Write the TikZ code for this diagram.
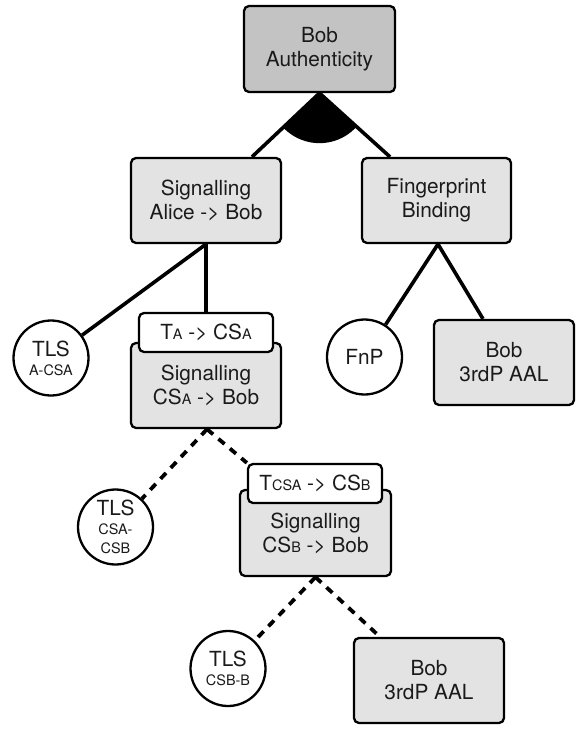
\documentclass[tikz,border=0pt]{standalone}
\usepackage{fontspec}
\setmainfont{TeX Gyre Heros}
\usetikzlibrary{backgrounds}
\definecolor{boxgray}{HTML}{E3E3E3}
\definecolor{rootgray}{HTML}{C3C3C3}
\definecolor{txt}{HTML}{1A1A1A}
\newcommand{\smtxt}[1]{{\fontsize{14.4}{16}\selectfont #1}}
\tikzset{
  box/.style={draw, line width=2.3pt, rounded corners=5pt, fill=boxgray, inner sep=0pt,
    align=center, text=txt, font=\fontsize{20.8}{24}\selectfont},
  rootbox/.style={box, fill=rootgray},
  tbox/.style={box, fill=white},
  leaf/.style={circle, draw, line width=2.3pt, fill=white, minimum size=75pt, inner sep=0pt,
    align=center, text=txt, font=\fontsize{20.8}{22}\selectfont},
  conn/.style={line width=3.6pt},
  dconn/.style={line width=3.8pt, dash pattern=on 8pt off 7pt},
}
\begin{document}
\begin{tikzpicture}[x=1pt,y=1pt]
\useasboundingbox (0,0) rectangle (576,-729);
% nodes
\node[rootbox, minimum width=151pt, minimum height=86pt] (root) at (319.5,-49) {Bob\\Authenticity};
\node[box, minimum width=150pt, minimum height=85pt] (sa) at (206,-200.5) {Signalling\\Alice -> Bob};
\node[box, minimum width=149pt, minimum height=85pt] (fb) at (436.5,-200.5) {Fingerprint\\Binding};
\node[leaf] (tls1) at (51,-358) {TLS\\[-3pt]\smtxt{A-CSA}};
\node[box, minimum width=150pt, minimum height=85pt] (sca) at (206,-385.5) {Signalling\\CS\smtxt{A} -> Bob};
\node[tbox, minimum width=134pt, minimum height=39pt] (ta) at (206,-332.5) {T\smtxt{A} -> CS\smtxt{A}};
\node[leaf] (fnp) at (364.5,-357) {FnP};
\node[box, minimum width=140pt, minimum height=85pt] (rb) at (504,-362.5) {Bob\\3rdP AAL};
\node[leaf] (tls2) at (115.5,-527) {TLS\\[-3pt]\smtxt{CSA-}\\[-3pt]\smtxt{CSB}};
\node[box, minimum width=151pt, minimum height=86pt] (scb) at (315.5,-533) {Signalling\\CS\smtxt{B} -> Bob};
\node[tbox, minimum width=134pt, minimum height=39pt] (tcsa) at (315,-483.5) {T\smtxt{CSA} -> CS\smtxt{B}};
\node[leaf] (tls3) at (228,-668.5) {TLS\\[-3pt]\smtxt{CSB-B}};
\node[box, minimum width=150pt, minimum height=85pt] (bb) at (429,-680.5) {Bob\\3rdP AAL};
% connectors
\begin{scope}[on background layer]
\draw[conn] (root.south) -- ([xshift=46pt]sa.north);
\draw[conn] (root.south) -- ([xshift=-46.5pt]fb.north);
\fill (root.south) -- ++(223.5:50) arc[start angle=223.5, end angle=317.8, radius=50] -- cycle;
\draw[conn] (sa.south) -- (ta.north);
\draw[conn] (sa.south) -- (tls1);
\draw[conn] ([xshift=1.5pt]fb.south) -- (fnp);
\draw[conn] ([xshift=1.5pt]fb.south) -- ([xshift=-21pt]rb.north);
\draw[dconn] ([xshift=1pt]sca.south) -- (tls2);
\draw[dconn] ([xshift=1pt]sca.south) -- (tcsa.north west);
\draw[dconn] (scb.south) -- (tls3);
\draw[dconn] (scb.south) -- ([xshift=-49pt]bb.north);
\end{scope}
\end{tikzpicture}
\end{document}
